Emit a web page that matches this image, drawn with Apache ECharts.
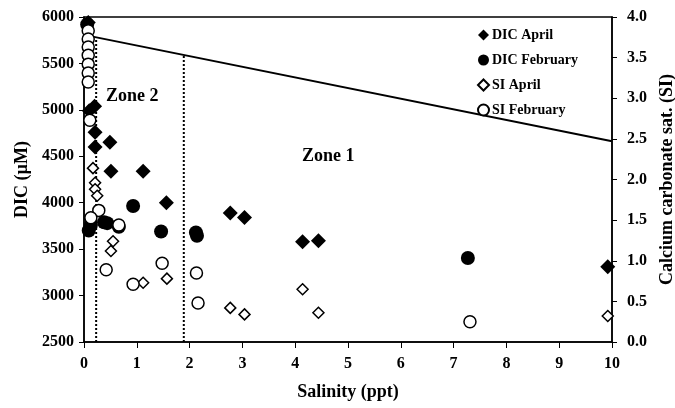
<!DOCTYPE html>
<html>
<head>
<meta charset="utf-8">
<script src="https://cdn.jsdelivr.net/npm/echarts@6/dist/echarts.min.js"></script>
<style>
  html, body { margin: 0; padding: 0; background: #fff; }
  #chart { width: 675px; height: 408px; }
</style>
</head>
<body>
<div id="chart"></div>
<script>
// salinity (ppt), DIC (uM)
const dicApril = [
  [0.08, 5940], [0.1, 4990], [0.2, 5040], [0.21, 4760], [0.21, 4600],
  [0.49, 4650], [0.51, 4340], [1.12, 4340], [1.56, 4000], [2.77, 3890],
  [3.04, 3840], [4.14, 3580], [4.44, 3590], [9.92, 3310]
];
const dicFebruary = [
  [0.06, 5920], [0.13, 3760], [0.09, 3700], [0.38, 3790], [0.44, 3780],
  [0.66, 3740], [0.93, 3965], [1.46, 3690], [2.12, 3680], [2.14, 3645],
  [7.27, 3405]
];
// salinity (ppt), saturation index
const siApril = [
  [0.17, 2.14], [0.21, 1.96], [0.21, 1.88], [0.25, 1.8], [0.55, 1.24],
  [0.51, 1.12], [1.12, 0.73], [1.57, 0.78], [2.77, 0.42], [3.04, 0.34],
  [4.14, 0.65], [4.44, 0.36], [9.92, 0.32]
];
const siFebruary = [
  [0.08, 3.83], [0.08, 3.73], [0.08, 3.63], [0.08, 3.53], [0.08, 3.42],
  [0.08, 3.31], [0.08, 3.2], [0.11, 2.73], [0.28, 1.62], [0.13, 1.53],
  [0.66, 1.44], [0.42, 0.89], [0.93, 0.71], [1.48, 0.97], [2.13, 0.85],
  [2.16, 0.48], [7.31, 0.25]
];
const satLine = [[0, 3.78], [10, 2.47]];
const zoneBounds = [0.23, 1.89];
const xTicks = [0, 10, 1];
const dicTicks = [2500, 6000, 500];
const siTicks = [0, 4, 0.5];

const font = "Liberation Serif";
const chart = echarts.init(document.getElementById("chart"));

// dotted boundary: from bottom of axis up to the saturation line
function boundary(x) {
  const y = satLine[0][1] + (satLine[1][1] - satLine[0][1]) * (x - satLine[0][0]) / (satLine[1][0] - satLine[0][0]);
  return {
    type: "line",
    yAxisIndex: 1,
    data: [[x, siTicks[0]], [x, y]],
    symbol: "none",
    silent: true,
    lineStyle: { color: "#000", width: 2, type: [2, 2] },
    z: 1
  };
}

const axisLabel = { color: "#000", fontFamily: font, fontWeight: "bold", fontSize: 16 };
const axisName = { color: "#000", fontFamily: font, fontWeight: "bold", fontSize: 18 };
const solidStyle = { color: "#000", opacity: 1 };
const openStyle = { color: "#fff", borderColor: "#000", borderWidth: 1.5, opacity: 1 };

const option = {
  animation: false,
  grid: {
    left: 84, right: 63, top: 17, bottom: 66,
    outerBoundsMode: "none",
    show: true, borderColor: "#000", borderWidth: 1.5
  },
  legend: {
    orient: "vertical",
    left: 472, top: 22,
    itemGap: 9, itemWidth: 11, itemHeight: 11,
    data: ["DIC April", "DIC February", "SI April", "SI February"],
    textStyle: { color: "#000", fontFamily: font, fontWeight: "bold", fontSize: 14, lineHeight: 16, padding: [0, 0, 0, -2] }
  },
  xAxis: {
    type: "value",
    min: xTicks[0], max: xTicks[1], interval: xTicks[2],
    name: "Salinity (ppt)", nameLocation: "middle", nameGap: 41,
    nameTextStyle: axisName,
    axisLine: { lineStyle: { color: "#000", width: 1.5 } },
    axisTick: { length: 6, lineStyle: { color: "#000" } },
    axisLabel: Object.assign({ margin: 14 }, axisLabel),
    splitLine: { show: false }
  },
  yAxis: [
    {
      type: "value",
      min: dicTicks[0], max: dicTicks[1], interval: dicTicks[2],
      name: "DIC (\u00b5M)", nameLocation: "middle", nameGap: 48, nameRotate: 90,
      nameTextStyle: axisName,
      axisLine: { show: true, lineStyle: { color: "#000", width: 1.5 } },
      axisTick: { show: true, length: 5, lineStyle: { color: "#000" } },
      axisLabel: Object.assign({ margin: 10, formatter: v => String(v) }, axisLabel),
      splitLine: { show: false }
    },
    {
      type: "value",
      position: "right",
      min: siTicks[0], max: siTicks[1], interval: siTicks[2],
      name: "Calcium carbonate sat. (SI)", nameLocation: "middle", nameGap: 40, nameRotate: 90,
      nameTextStyle: axisName,
      axisLine: { show: true, lineStyle: { color: "#000", width: 1.5 } },
      axisTick: { show: true, length: 5, lineStyle: { color: "#000" } },
      axisLabel: Object.assign({ margin: 15, formatter: v => v.toFixed(1) }, axisLabel),
      splitLine: { show: false }
    }
  ],
  graphic: [
    { type: "text", left: 106, top: 87, style: { text: "Zone 2", fill: "#000", font: "bold 18px " + font } },
    { type: "text", left: 302, top: 147, style: { text: "Zone 1", fill: "#000", font: "bold 18px " + font } }
  ],
  series: [
    boundary(zoneBounds[0]),
    boundary(zoneBounds[1]),
    {
      type: "line", yAxisIndex: 1, data: satLine, symbol: "none", silent: true,
      lineStyle: { color: "#000", width: 2 }, z: 1
    },
    {
      name: "DIC April", type: "scatter", yAxisIndex: 0, data: dicApril,
      symbol: "diamond", symbolSize: 15, itemStyle: solidStyle
    },
    {
      name: "DIC February", type: "scatter", yAxisIndex: 0, data: dicFebruary,
      symbol: "circle", symbolSize: 14, itemStyle: solidStyle
    },
    {
      name: "SI April", type: "scatter", yAxisIndex: 1, data: siApril,
      symbol: "diamond", symbolSize: 11, itemStyle: openStyle
    },
    {
      name: "SI February", type: "scatter", yAxisIndex: 1, data: siFebruary,
      symbol: "circle", symbolSize: 12, itemStyle: openStyle
    }
  ]
};

chart.setOption(option);
window.addEventListener("resize", () => chart.resize());
</script>
</body>
</html>
